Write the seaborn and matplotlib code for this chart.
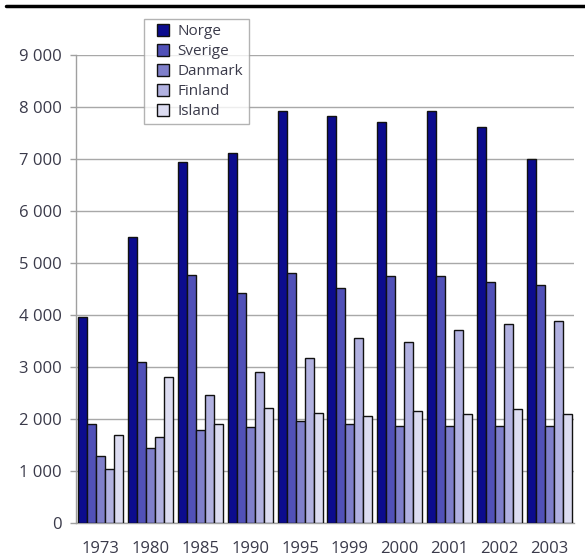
import matplotlib
matplotlib.use("Agg")
import matplotlib.pyplot as plt
from matplotlib.lines import Line2D
from matplotlib.ticker import FuncFormatter, MultipleLocator
import numpy as np
import pandas as pd
import seaborn as sns

years = ["1973", "1980", "1985", "1990", "1995", "1999", "2000", "2001", "2002", "2003"]
countries = ["Norge", "Sverige", "Danmark", "Finland", "Island"]

norge = [3960, 5500, 6940, 7120, 7920, 7830, 7710, 7920, 7620, 7000]
sverige = [1900, 3100, 4770, 4420, 4800, 4510, 4750, 4750, 4630, 4580]
danmark = [1290, 1440, 1790, 1850, 1960, 1900, 1870, 1870, 1870, 1870]
finland = [1040, 1650, 2460, 2900, 3170, 3560, 3480, 3710, 3830, 3890]
island = [1690, 2810, 1900, 2210, 2110, 2060, 2150, 2100, 2190, 2100]

colors = ["#0c0c8e", "#5151b8", "#7f7fca", "#b1b1e0", "#dcdcf1"]

series = [norge, sverige, danmark, finland, island]
df = pd.DataFrame({
    "year": np.repeat([years], len(countries), axis=0).ravel(),
    "country": np.repeat(countries, len(years)),
    "value": np.concatenate(series),
})

sns.set_theme(style="white")
plt.rcParams["font.family"] = ["Open Sans", "DejaVu Sans"]

fig = plt.figure(figsize=(5.85, 5.56), dpi=100)
ax = fig.add_axes([76 / 585, 1 - 523 / 556, 498 / 585, 468 / 556])

sns.barplot(data=df, x="year", y="value", hue="country", order=years,
            hue_order=countries, palette=colors, saturation=1,
            edgecolor="#111111", linewidth=1.0, width=0.9, ax=ax,
            legend=False, zorder=3)

ax.set_ylim(0, 9000)
ax.set_xlim(-0.5, len(years) - 0.5)
ax.yaxis.set_major_locator(MultipleLocator(1000))
ax.yaxis.set_major_formatter(FuncFormatter(lambda v, p: f"{int(v):,}".replace(",", " ")))
ax.grid(axis="y", color="#a8a8a8", linewidth=1.0, zorder=0)
ax.set_axisbelow(True)
ax.set_xlabel("")
ax.set_ylabel("")

for side in ["top", "right"]:
    ax.spines[side].set_visible(False)
for side in ["left", "bottom"]:
    ax.spines[side].set_color("#a0a0a0")
    ax.spines[side].set_linewidth(1.0)

text_color = "#3a3a4a"

# x ticks sit between the year groups; labels stay centred on each group
ax.set_xticks(np.arange(len(years)))
ax.set_xticklabels(years)
ax.tick_params(axis="x", which="major", length=0, pad=13, labelsize=12, labelcolor=text_color)
ax.set_xticks(np.arange(-0.5, len(years)), minor=True)
ax.tick_params(axis="x", which="minor", length=4.5, width=1, color="#a0a0a0", direction="out")
ax.tick_params(axis="y", length=4.5, width=1, color="#a0a0a0", direction="out",
               labelsize=12, labelcolor=text_color, pad=5.5, left=True)

handles = [Line2D([], [], marker="s", linestyle="none", markersize=8.5,
                  markerfacecolor=c, markeredgecolor="#111111", markeredgewidth=1.0)
           for c in colors]
leg = fig.legend(handles, countries, loc="upper left",
                 bbox_to_anchor=(144 / 585, 1 - 19 / 556), borderaxespad=0,
                 frameon=True, fancybox=False, fontsize=11, labelspacing=0.32,
                 handlelength=1.8, handletextpad=0.05, borderpad=0.35,
                 labelcolor=text_color)
leg.get_frame().set_edgecolor("#a0a0a0")
leg.get_frame().set_linewidth(1.0)

# heavy rule across the top of the figure
fig.add_artist(Line2D([6 / 585, 1.0], [1 - 6 / 556, 1 - 6 / 556],
                      transform=fig.transFigure, color="black", linewidth=2.5))

fig.savefig("out.png", dpi=100, facecolor="white")
